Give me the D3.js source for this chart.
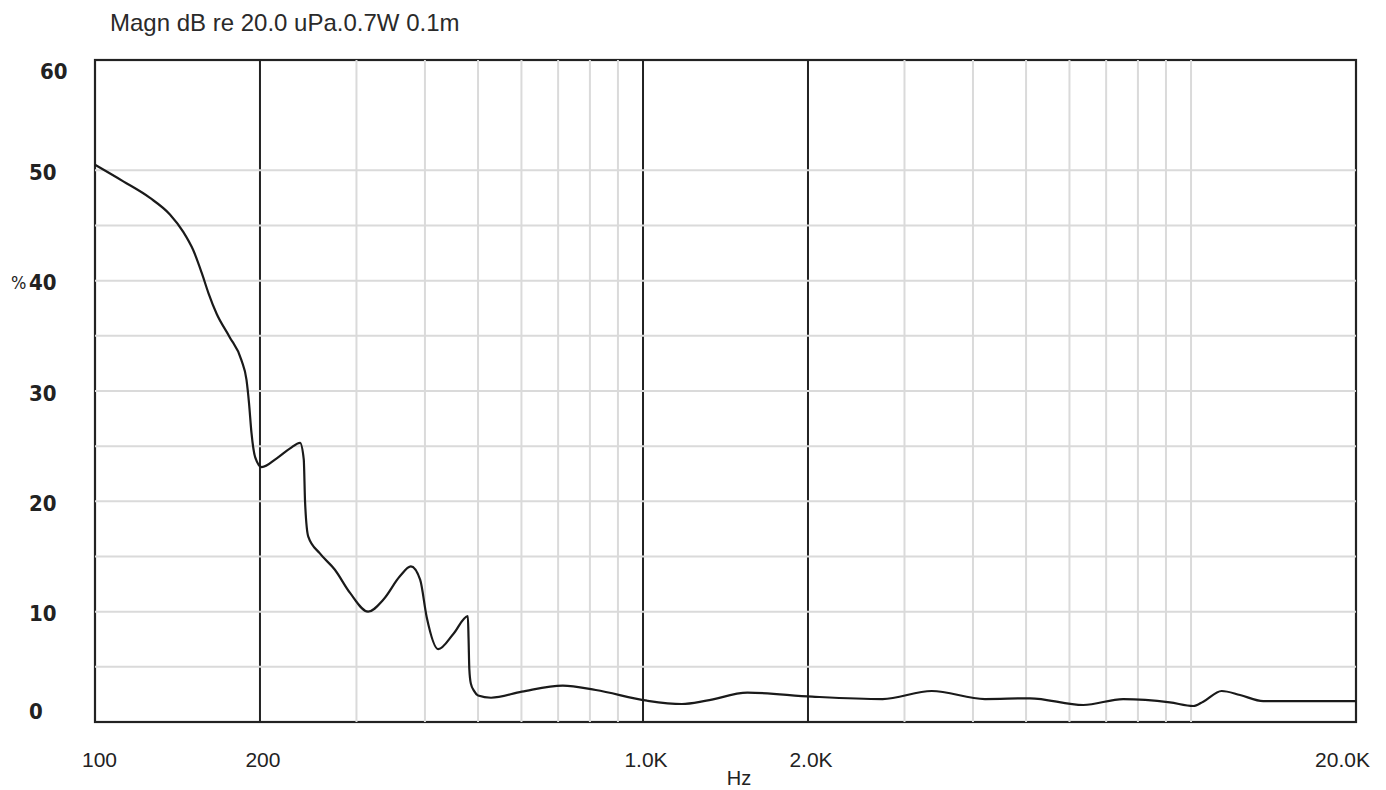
<!DOCTYPE html>
<html>
<head>
<meta charset="utf-8">
<script src="https://cdn.jsdelivr.net/npm/d3@7"></script>
<style>
  html, body { margin: 0; padding: 0; background: #fff; }
  svg { display: block; }
</style>
</head>
<body>
<svg id="chart" width="1386" height="790"></svg>
<script>
// Frequency points (Hz)
const freqs = [
  100, 112.6, 126, 137, 145, 151, 156.6, 161, 166.7, 176,
  185, 189, 191, 193, 196, 201.5, 214.6, 227, 236.7, 240.4,
  241.7, 245, 257, 274, 292, 315, 336, 360, 377, 392,
  403, 423, 451, 479, 480.5, 482, 485, 492, 500, 528,
  601, 714, 820, 1017, 1177, 1305, 1551, 2035, 2736, 3364,
  4207, 5083, 6359, 7519, 9151, 10094, 10527, 11374, 12285, 13544,
  20000,
];

// Curve values (%) at those frequencies
const values = [
  50.5, 49.0, 47.5, 46.0, 44.4, 42.8, 40.7, 38.9, 37.0, 34.9,
  32.8, 31.0, 28.9, 26.2, 24.0, 23.1, 23.9, 24.8, 25.3, 23.8,
  20.0, 16.8, 15.3, 13.8, 11.7, 10.0, 11.1, 13.2, 14.1, 12.9,
  9.5, 6.6, 8.0, 9.6, 7.5, 4.8, 3.5, 2.8, 2.4, 2.2,
  2.75, 3.3, 2.9, 1.93, 1.63, 1.93, 2.66, 2.3, 2.08, 2.81,
  2.08, 2.15, 1.54, 2.08, 1.78, 1.45, 1.84, 2.81, 2.45, 1.9,
  1.9,
];

// Axis ticks
const yTicks = [0, 10, 20, 30, 40, 50, 60];
const yMinor = [5, 15, 25, 35, 45];
const xMajor = [200, 1000, 2000];
const xMinor = [300, 400, 500, 600, 700, 800, 900,
  3000, 4000, 5000, 6000, 7000, 8000, 9000, 10000];
const xTickValues = [100, 200, 1000, 2000, 20000];
const xTickLabels = ['100', '200', '1.0K', '2.0K', '20.0K'];

const title = 'Magn dB re 20.0 uPa.0.7W 0.1m';

// plot box
const box = { left: 95, right: 1356, top: 60, bottom: 722 };

const svg = d3.select('#chart');

const x = d3.scaleLog().domain([100, 20000]).range([box.left, box.right]);
const y = d3.scaleLinear().domain([0, 60]).range([box.bottom, box.top]);

const axisFont = '"Liberation Sans", Arial, sans-serif';
const yFont = '"DejaVu Sans Condensed", "DejaVu Sans", sans-serif';

// //////////////////////////////////////////////////////////////////////////
// Frame and grid

svg.append('rect')
  .attr('x', box.left)
  .attr('y', box.top)
  .attr('width', box.right - box.left)
  .attr('height', box.bottom - box.top)
  .attr('fill', 'none')
  .attr('stroke', '#222')
  .attr('stroke-width', 2.2);

// dark lines
svg.append('g')
  .selectAll('line')
  .data(xMajor)
  .join('line')
  .attr('x1', (d) => x(d))
  .attr('x2', (d) => x(d))
  .attr('y1', box.top)
  .attr('y2', box.bottom)
  .attr('stroke', '#222')
  .attr('stroke-width', 2);

const grid = svg.append('g')
  .attr('stroke', '#dadada')
  .attr('stroke-width', 2);

grid.selectAll('.vx')
  .data(xMinor)
  .join('line')
  .attr('class', 'vx')
  .attr('x1', (d) => x(d))
  .attr('x2', (d) => x(d))
  .attr('y1', box.top)
  .attr('y2', box.bottom);

grid.selectAll('.hy')
  .data(yTicks.filter((d) => d > 0 && d < 60).concat(yMinor))
  .join('line')
  .attr('class', 'hy')
  .attr('x1', box.left)
  .attr('x2', box.right)
  .attr('y1', (d) => y(d))
  .attr('y2', (d) => y(d));

// //////////////////////////////////////////////////////////////////////////
// The curve

const points = freqs.map((f, i) => ({ f, v: values[i] }));

const line = d3.line()
  .x((d) => x(d.f))
  .y((d) => y(d.v))
  .curve(d3.curveMonotoneX);

svg.append('path')
  .datum(points)
  .attr('d', line)
  .attr('fill', 'none')
  .attr('stroke', '#1a1a1a')
  .attr('stroke-width', 2.2)
  .attr('stroke-linejoin', 'round');

// //////////////////////////////////////////////////////////////////////////
// Labels

// y tick labels, end ones pulled inside the box
svg.append('g')
  .selectAll('text')
  .data(yTicks)
  .join('text')
  .attr('x', (d) => (d === 60 ? 40 : 29))
  .attr('y', (d) => Math.max(71, Math.min(711, y(d) + 2)))
  .attr('dominant-baseline', 'central')
  .attr('font-family', yFont)
  .attr('font-stretch', 'condensed')
  .attr('font-weight', 'bold')
  .attr('font-size', 22)
  .attr('fill', '#222')
  .text((d) => d);

// unit mark beside the 40 label
svg.append('text')
  .attr('x', 11)
  .attr('y', y(40) + 2)
  .attr('dominant-baseline', 'central')
  .attr('font-family', yFont)
  .attr('font-stretch', 'condensed')
  .attr('font-size', 18)
  .attr('fill', '#222')
  .text('%');

// x tick labels
svg.append('g')
  .selectAll('text')
  .data(xTickValues)
  .join('text')
  .attr('x', (d, i) => {
    if (i === 0) return x(d) - 13;
    if (i === xTickValues.length - 1) return box.right + 14;
    return x(d) + 3;
  })
  .attr('y', 767)
  .attr('text-anchor', (d, i) => {
    if (i === 0) return 'start';
    if (i === xTickValues.length - 1) return 'end';
    return 'middle';
  })
  .attr('font-family', axisFont)
  .attr('font-size', 21)
  .attr('fill', '#222')
  .text((d, i) => xTickLabels[i]);

svg.append('text')
  .attr('x', 739)
  .attr('y', 785)
  .attr('text-anchor', 'middle')
  .attr('font-family', axisFont)
  .attr('font-size', 20)
  .attr('fill', '#222')
  .text('Hz');

svg.append('text')
  .attr('x', 110)
  .attr('y', 31)
  .attr('font-family', axisFont)
  .attr('font-size', 24)
  .attr('fill', '#2a2a2a')
  .text(title);
</script>
</body>
</html>
